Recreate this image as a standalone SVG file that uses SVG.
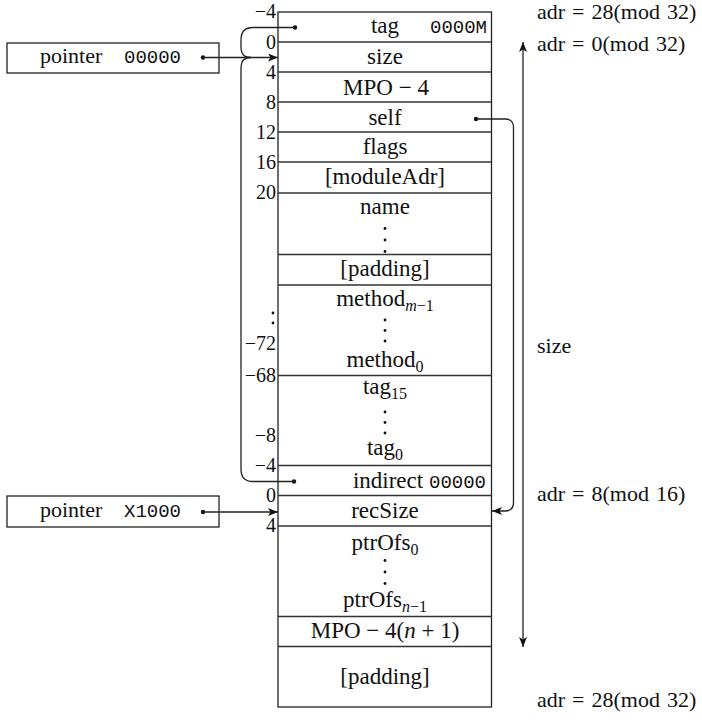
<svg xmlns="http://www.w3.org/2000/svg" width="702" height="720" viewBox="0 0 702 720">
<style>
text{font-family:"Liberation Serif","DejaVu Serif","Times New Roman",serif;fill:#111}
.l{font-size:23px;text-anchor:middle}
.n{font-size:20px;text-anchor:end}
.r{font-size:22px;word-spacing:1.5px}
.tt{font-family:"Liberation Mono","DejaVu Sans Mono","Courier New",monospace;font-size:19px}
.sub{font-size:16px}
.it{font-style:italic}
.box{fill:#fff;stroke:#222;stroke-width:1.3}
.sep{stroke:#333;stroke-width:1.3}
.con{fill:none;stroke:#222;stroke-width:1.3}
.dot{fill:#111}
.vd{fill:#111}
</style>
<defs>
<marker id="ah" markerUnits="userSpaceOnUse" markerWidth="12" markerHeight="10" refX="10" refY="4" orient="auto">
<path d="M0,0 L10,4 L0,8 L2.5,4 z" fill="#111"/>
</marker>
<marker id="ahs" markerUnits="userSpaceOnUse" markerWidth="12" markerHeight="10" refX="10" refY="4" orient="auto-start-reverse">
<path d="M0,0 L10,4 L0,8 L2.5,4 z" fill="#111"/>
</marker>
</defs>

<g id="record">
<rect class="box" x="278" y="12" width="213.5" height="695"/>
<g class="sep">
<line x1="278" y1="42" x2="491.5" y2="42"/>
<line x1="278" y1="72" x2="491.5" y2="72"/>
<line x1="278" y1="102" x2="491.5" y2="102"/>
<line x1="278" y1="132" x2="491.5" y2="132"/>
<line x1="278" y1="162" x2="491.5" y2="162"/>
<line x1="278" y1="193" x2="491.5" y2="193"/>
<line x1="278" y1="254.5" x2="491.5" y2="254.5"/>
<line x1="278" y1="285" x2="491.5" y2="285"/>
<line x1="278" y1="375.5" x2="491.5" y2="375.5"/>
<line x1="278" y1="465.5" x2="491.5" y2="465.5"/>
<line x1="278" y1="495.5" x2="491.5" y2="495.5"/>
<line x1="278" y1="526" x2="491.5" y2="526"/>
<line x1="278" y1="616.5" x2="491.5" y2="616.5"/>
<line x1="278" y1="646.5" x2="491.5" y2="646.5"/>
</g>
</g>

<g id="row-tag">
<text class="l" x="385" y="33">tag</text>
<text class="tt" x="487" y="33" text-anchor="end">0000M</text>
<circle class="dot" cx="295" cy="27.5" r="2.2"/>
</g>
<g id="row-size"><text class="l" x="385" y="64">size</text></g>
<g id="row-mpo"><text class="l" x="386" y="95">MPO − 4</text></g>
<g id="row-self">
<text class="l" x="385" y="125">self</text>
<circle class="dot" cx="476" cy="119" r="2.2"/>
</g>
<g id="row-flags"><text class="l" x="385" y="154">flags</text></g>
<g id="row-moduleAdr"><text class="l" x="385" y="184">[moduleAdr]</text></g>
<g id="row-name">
<text class="l" x="385" y="214">name</text>
<circle class="vd" cx="385" cy="228.5" r="1.4"/><circle class="vd" cx="385" cy="240" r="1.4"/><circle class="vd" cx="385" cy="251.5" r="1.4"/>
</g>
<g id="row-padding1"><text class="l" x="385" y="276">[padding]</text></g>
<g id="row-methods">
<text class="l" x="385" y="306">method<tspan class="sub it" dy="5">m</tspan><tspan class="sub" dy="0">−1</tspan></text>
<circle class="vd" cx="385" cy="320" r="1.4"/><circle class="vd" cx="385" cy="330.5" r="1.4"/><circle class="vd" cx="385" cy="341" r="1.4"/>
<text class="l" x="385" y="367">method<tspan class="sub" dy="5">0</tspan></text>
</g>
<g id="row-tags">
<text class="l" x="385" y="394">tag<tspan class="sub" dy="5">15</tspan></text>
<circle class="vd" cx="385" cy="412" r="1.4"/><circle class="vd" cx="385" cy="422.5" r="1.4"/><circle class="vd" cx="385" cy="433" r="1.4"/>
<text class="l" x="385" y="455">tag<tspan class="sub" dy="5">0</tspan></text>
</g>
<g id="row-indirect">
<text class="l" x="388" y="488">indirect</text>
<text class="tt" x="486" y="488" text-anchor="end">00000</text>
<circle class="dot" cx="294" cy="481.5" r="2.2"/>
</g>
<g id="row-recSize"><text class="l" x="385" y="518">recSize</text></g>
<g id="row-ptrOfs">
<text class="l" x="385" y="550">ptrOfs<tspan class="sub" dy="5">0</tspan></text>
<circle class="vd" cx="385" cy="560.5" r="1.4"/><circle class="vd" cx="385" cy="572" r="1.4"/><circle class="vd" cx="385" cy="583.5" r="1.4"/>
<text class="l" x="385" y="607">ptrOfs<tspan class="sub it" dy="5">n</tspan><tspan class="sub" dy="0">−1</tspan></text>
</g>
<g id="row-mpo2"><text class="l" x="385" y="638">MPO − 4(<tspan class="it">n</tspan> + 1)</text></g>
<g id="row-padding2"><text class="l" x="385" y="684">[padding]</text></g>

<g id="offsets">
<text class="n" x="276" y="18">−4</text>
<text class="n" x="276" y="49">0</text>
<text class="n" x="276" y="79">4</text>
<text class="n" x="276" y="109">8</text>
<text class="n" x="276" y="139">12</text>
<text class="n" x="276" y="169">16</text>
<text class="n" x="276" y="199">20</text>
<circle class="vd" cx="273" cy="313" r="1.4"/><circle class="vd" cx="273" cy="323" r="1.4"/>
<text class="n" x="276" y="350">−72</text>
<text class="n" x="276" y="382">−68</text>
<text class="n" x="276" y="442">−8</text>
<text class="n" x="276" y="472">−4</text>
<text class="n" x="276" y="502">0</text>
<text class="n" x="276" y="532">4</text>
</g>

<g id="pointer1">
<rect class="box" x="7" y="43" width="212" height="30"/>
<text class="r" x="40" y="63" font-size="23">pointer</text>
<text class="tt" x="124" y="63">00000</text>
<circle class="dot" cx="203" cy="57.5" r="2.2"/>
</g>
<g id="pointer2">
<rect class="box" x="7" y="496" width="212" height="31"/>
<text class="r" x="40" y="517" font-size="23">pointer</text>
<text class="tt" x="124" y="517">X1000</text>
<circle class="dot" cx="203" cy="512" r="2.2"/>
</g>

<g id="annotations">
<text class="r" x="537" y="19">adr = 28(mod 32)</text>
<text class="r" x="537" y="51">adr = 0(mod 32)</text>
<text class="r" x="537" y="353">size</text>
<text class="r" x="537" y="501">adr = 8(mod 16)</text>
<text class="r" x="537" y="707">adr = 28(mod 32)</text>
</g>

<g id="connectors">
<line class="con" x1="203" y1="57.5" x2="278" y2="57.5" marker-end="url(#ah)"/>
<line class="con" x1="203" y1="512" x2="278" y2="512" marker-end="url(#ah)"/>
<path class="con" d="M295,27.5 H253 Q241,27.5 241,39.5 V48 Q241,57.5 251,57.5"/>
<path class="con" d="M294,481.5 H253 Q241,481.5 241,469.5 V67 Q241,57.5 251,57.5"/>
<path class="con" d="M476,119 H505 Q513.5,119 513.5,127.5 V502.5 Q513.5,511 505,511 H492" marker-end="url(#ah)"/>
<line class="con" x1="523" y1="42" x2="523" y2="647" marker-start="url(#ahs)" marker-end="url(#ahs)"/>
</g>
</svg>
